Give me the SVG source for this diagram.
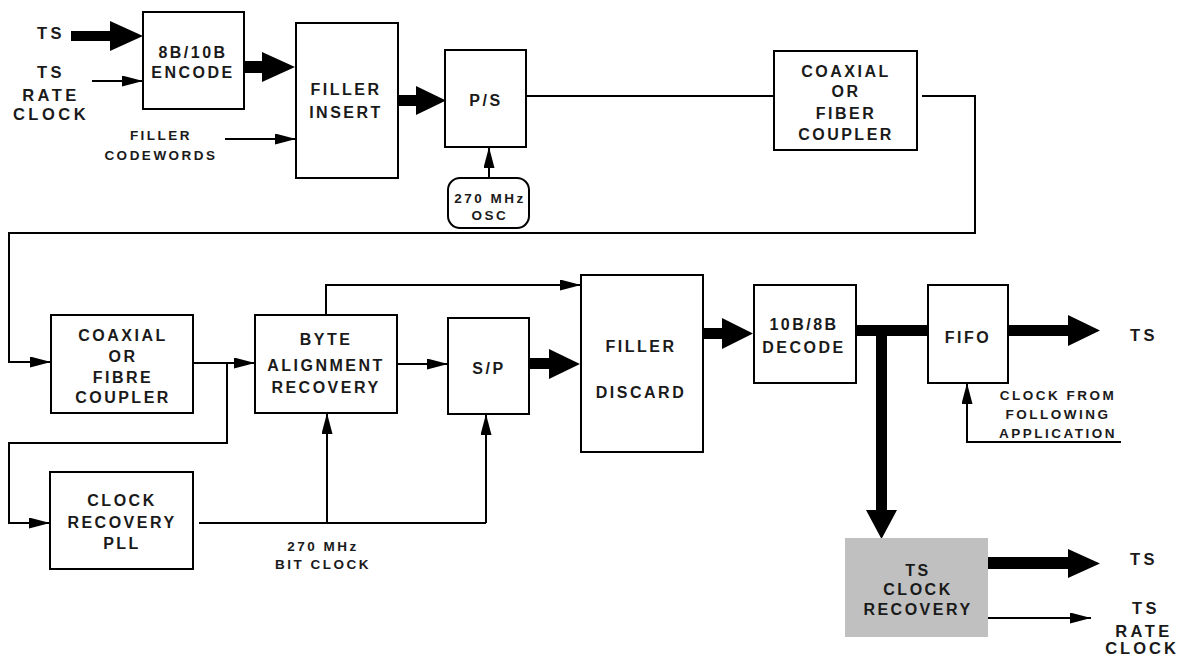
<svg xmlns="http://www.w3.org/2000/svg" width="1181" height="658" viewBox="0 0 1181 658">
  <style>
    .box { fill: #ffffff; stroke: #000000; stroke-width: 2; }
    .gray { fill: #c0c0c0; stroke: none; }
    .wire { fill: none; stroke: #000000; stroke-width: 2; }
    .arr { marker-end: url(#head); }
    .bus { fill: #000000; stroke: none; }
    text { font-family: "Liberation Sans", Arial, sans-serif; font-weight: bold; fill: #1a1a1a; text-anchor: middle; }
    .lbl { font-size: 16px; letter-spacing: 2.5px; }
    .sm { font-size: 13.5px; letter-spacing: 2.5px; }
    .io { font-size: 16.5px; letter-spacing: 3.5px; }
    .tight { letter-spacing: 3px; }
  </style>
  <defs>
    <marker id="head" markerUnits="userSpaceOnUse" markerWidth="22" markerHeight="12" refX="21" refY="5.5" orient="auto">
      <path d="M0,0 L21,5.5 L0,11 z" fill="#000000"/>
    </marker>
  </defs>
  <rect width="1181" height="658" fill="#ffffff"/>

  <!-- connectors -->
  <g id="connectors">
    <!-- thin signal lines -->
    <line class="wire arr" x1="92" y1="81" x2="143" y2="81"/>
    <line class="wire arr" x1="225" y1="139" x2="296" y2="139"/>
    <line class="wire arr" x1="489" y1="178" x2="489" y2="147"/>
    <line class="wire" x1="526" y1="96" x2="774" y2="96"/>
    <polyline class="wire arr" points="922,96 975,96 975,233 9,233 9,362 51,362"/>
    <line class="wire arr" x1="193" y1="363" x2="255" y2="363"/>
    <polyline class="wire arr" points="227,363 227,443 9,443 9,523 50,523"/>
    <line class="wire" x1="199" y1="523" x2="486" y2="523"/>
    <line class="wire arr" x1="327" y1="523" x2="327" y2="413"/>
    <line class="wire arr" x1="486" y1="523" x2="486" y2="414"/>
    <polyline class="wire arr" points="326,315 326,285 581,285"/>
    <line class="wire arr" x1="397" y1="364" x2="448" y2="364"/>
    <polyline class="wire arr" points="1121,442 967,442 967,383"/>
    <line class="wire arr" x1="988" y1="618" x2="1091" y2="618"/>
    <!-- thick data paths -->
    <polygon class="bus" points="71,31 110,31 110,21 143,36 110,51 110,41 71,41"/>
    <polygon class="bus" points="244,61 262,61 262,52 295,67 262,82 262,73 244,73"/>
    <polygon class="bus" points="398,95 416,95 416,86 446,100.5 416,115 416,106 398,106"/>
    <polygon class="bus" points="529,358 549,358 549,349 580,364 549,379 549,369 529,369"/>
    <polygon class="bus" points="703,328 722,328 722,318 753,333.5 722,349 722,339 703,339"/>
    <rect class="bus" x="856" y="325" width="72" height="11"/>
    <polygon class="bus" points="876,330 887,330 887,510 897,510 881.5,539 866,510 876,510"/>
    <polygon class="bus" points="1008,325 1068,325 1068,315 1100,330.5 1068,346 1068,336 1008,336"/>
    <polygon class="bus" points="988,557 1068,557 1068,549 1100,563.5 1068,578 1068,569 988,569"/>
  </g>

  <!-- free labels -->
  <g id="inputs">
    <text class="io" x="51" y="39">TS</text>
    <text class="io" x="51" y="78">TS</text>
    <text class="io" x="51" y="101">RATE</text>
    <text class="io" x="51" y="120">CLOCK</text>
    <text class="sm" x="161" y="140">FILLER</text>
    <text class="sm" x="161" y="160">CODEWORDS</text>
  </g>

  <g id="encode">
    <rect class="box" x="143" y="12" width="101" height="97"/>
    <text class="lbl" x="193" y="58">8B/10B</text>
    <text class="lbl" x="193" y="78">ENCODE</text>
  </g>

  <g id="filler-insert">
    <rect class="box" x="296" y="23" width="102" height="155"/>
    <text class="lbl" x="346" y="95">FILLER</text>
    <text class="lbl" x="346" y="118">INSERT</text>
  </g>

  <g id="ps">
    <rect class="box" x="445" y="50" width="81" height="97"/>
    <text class="lbl" x="486" y="106">P/S</text>
  </g>

  <g id="osc">
    <rect class="box" x="448" y="178" width="81" height="50" rx="12" ry="12"/>
    <text class="sm" x="490" y="203">270 MHz</text>
    <text class="sm" x="490" y="220">OSC</text>
  </g>

  <g id="coupler-tx">
    <rect class="box" x="774" y="51" width="143" height="99"/>
    <text class="lbl" x="846" y="77">COAXIAL</text>
    <text class="lbl" x="846" y="97">OR</text>
    <text class="lbl" x="846" y="119">FIBER</text>
    <text class="lbl" x="846" y="140">COUPLER</text>
  </g>

  <g id="coupler-rx">
    <rect class="box" x="51" y="315" width="142" height="98"/>
    <text class="lbl" x="123" y="341">COAXIAL</text>
    <text class="lbl" x="123" y="362">OR</text>
    <text class="lbl" x="123" y="383">FIBRE</text>
    <text class="lbl" x="123" y="403">COUPLER</text>
  </g>

  <g id="byte-align">
    <rect class="box" x="255" y="315" width="142" height="98"/>
    <text class="lbl" x="326" y="345">BYTE</text>
    <text class="lbl" x="326" y="371">ALIGNMENT</text>
    <text class="lbl" x="326" y="393">RECOVERY</text>
  </g>

  <g id="sp">
    <rect class="box" x="448" y="318" width="81" height="96"/>
    <text class="lbl" x="489" y="374">S/P</text>
  </g>

  <g id="filler-discard">
    <rect class="box" x="581" y="275" width="122" height="177"/>
    <text class="lbl" x="641" y="352">FILLER</text>
    <text class="lbl" x="641" y="398">DISCARD</text>
  </g>

  <g id="decode">
    <rect class="box" x="754" y="285" width="102" height="98"/>
    <text class="lbl" x="804" y="330">10B/8B</text>
    <text class="lbl" x="804" y="353">DECODE</text>
  </g>

  <g id="fifo">
    <rect class="box" x="928" y="285" width="80" height="98"/>
    <text class="lbl" x="968" y="343">FIFO</text>
  </g>

  <g id="outputs">
    <text class="io" x="1144" y="341">TS</text>
    <text class="sm" x="1058" y="400">CLOCK FROM</text>
    <text class="sm" x="1058" y="419">FOLLOWING</text>
    <text class="sm" x="1058" y="438">APPLICATION</text>
    <text class="io" x="1144" y="565">TS</text>
    <text class="io" x="1146" y="614">TS</text>
    <text class="io" x="1144" y="637">RATE</text>
    <text class="io tight" x="1142" y="654">CLOCK</text>
  </g>

  <g id="clock-pll">
    <rect class="box" x="50" y="472" width="143" height="97"/>
    <text class="lbl" x="122" y="506">CLOCK</text>
    <text class="lbl" x="122" y="528">RECOVERY</text>
    <text class="lbl" x="122" y="549">PLL</text>
  </g>

  <g id="bit-clock">
    <text class="sm" x="323" y="551">270 MHz</text>
    <text class="sm" x="323" y="569">BIT CLOCK</text>
  </g>

  <g id="ts-clock-recovery">
    <rect class="gray" x="845" y="538" width="143" height="99"/>
    <text class="lbl" x="918" y="576">TS</text>
    <text class="lbl" x="918" y="595">CLOCK</text>
    <text class="lbl" x="918" y="615">RECOVERY</text>
  </g>
</svg>
